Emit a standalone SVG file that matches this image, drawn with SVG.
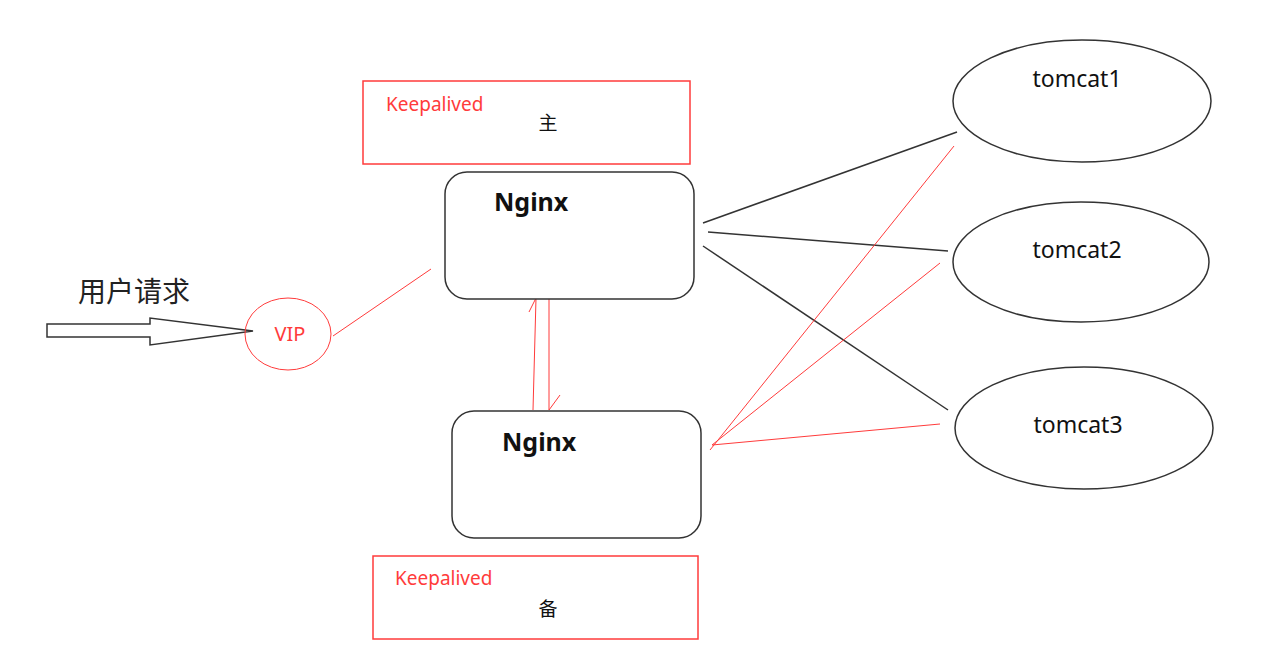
<svg xmlns="http://www.w3.org/2000/svg" width="1263" height="664" viewBox="0 0 1263 664">
<style>
.red{fill:none;stroke:#ff3b3b;stroke-width:1}
.blk{fill:none;stroke:#333;stroke-width:1.5}
.box{fill:#fff;stroke:#333;stroke-width:1.5}
.kbox{fill:#fff;stroke:#ff3b3b;stroke-width:1.5}
.kt{font-family:"Noto Sans","Noto Sans CJK SC",sans-serif;font-size:19px;fill:#ff3b3b}
.cn{font-family:"Noto Sans CJK SC",sans-serif;font-size:19px;fill:#111}
.ng{font-family:"Noto Sans","Noto Sans CJK SC",sans-serif;font-size:25px;font-weight:bold;fill:#111}
.tc{font-family:"Noto Sans","Noto Sans CJK SC",sans-serif;font-size:23px;fill:#111;text-anchor:middle}
</style>
<rect width="1263" height="664" fill="#fff"/>
<g id="connectors">
<line class="red" x1="333" y1="336" x2="431" y2="269"/>
<polyline class="red" points="533,410 536,298 529,312"/>
<polyline class="red" points="549,298 549,410 560,395"/>
<line class="blk" x1="703" y1="223" x2="957" y2="132"/>
<line class="blk" x1="708" y1="232" x2="948" y2="251"/>
<line class="blk" x1="703" y1="246" x2="948" y2="410"/>
<line class="red" x1="710" y1="450" x2="954" y2="146"/>
<line class="red" x1="712" y1="445" x2="940" y2="263"/>
<line class="red" x1="712" y1="445" x2="940" y2="424"/>
</g>
<g id="request">
<text x="78" y="302" font-family="Noto Sans CJK SC,sans-serif" font-size="28" fill="#222">用户请求</text>
<polygon points="47,324 150,324 150,318 253,331 150,345 150,337 47,337" fill="#fff" stroke="#333" stroke-width="1.5"/>
</g>
<g id="vip">
<ellipse cx="288" cy="334" rx="43" ry="36" class="red" stroke-width="1.2"/>
<text x="290" y="341" font-family="Noto Sans,sans-serif" font-size="20" fill="#ff3b3b" text-anchor="middle">VIP</text>
</g>
<g id="keepalived-master">
<rect class="kbox" x="363" y="81" width="327" height="83"/>
<text class="kt" x="386" y="111">Keepalived</text>
<text class="cn" x="548" y="130" text-anchor="middle">主</text>
</g>
<g id="nginx-master">
<rect class="box" x="445" y="172" width="249" height="127" rx="22"/>
<text class="ng" x="494" y="211">Nginx</text>
</g>
<g id="nginx-backup">
<rect class="box" x="452" y="411" width="249" height="127" rx="22"/>
<text class="ng" x="502" y="451">Nginx</text>
</g>
<g id="keepalived-backup">
<rect class="kbox" x="373" y="556" width="325" height="83"/>
<text class="kt" x="395" y="585">Keepalived</text>
<text class="cn" x="548" y="616" text-anchor="middle">备</text>
</g>
<g id="tomcat1">
<ellipse class="box" cx="1082" cy="101" rx="129" ry="61"/>
<text class="tc" x="1077" y="87">tomcat1</text>
</g>
<g id="tomcat2">
<ellipse class="box" cx="1081" cy="262" rx="128" ry="60"/>
<text class="tc" x="1077" y="258">tomcat2</text>
</g>
<g id="tomcat3">
<ellipse class="box" cx="1084" cy="428" rx="129" ry="61"/>
<text class="tc" x="1078" y="433">tomcat3</text>
</g>
</svg>
